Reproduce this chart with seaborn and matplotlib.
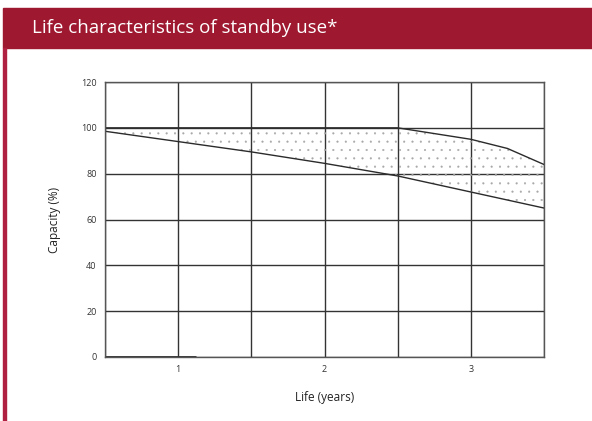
import numpy as np
import pandas as pd
import matplotlib
matplotlib.use("Agg")
import matplotlib.pyplot as plt
import seaborn as sns

# values
years = [0.5, 1.0, 1.5, 2.0, 2.5, 3.0, 3.25, 3.5]
upper = [100, 100, 100, 100, 100, 95, 91, 84]
lower = [98.5, 94, 89.5, 84.5, 79, 72, 68.5, 65]
x_ticks = [1, 2, 3]
y_ticks = [0, 20, 40, 60, 80, 100, 120]

sns.set_style("white")
plt.rcParams['font.family'] = ['Open Sans', 'DejaVu Sans']
plt.rcParams['hatch.linewidth'] = 0.3

df = pd.DataFrame({'years': years, 'upper': upper, 'lower': lower})

fig = plt.figure(figsize=(5.92, 4.21), dpi=100)

# red header band and left border
fig.patches.append(plt.Rectangle((3/592, 1 - 48/421), 1, 40/421, transform=fig.transFigure,
                                 color='#9e1830', zorder=0))
fig.patches.append(plt.Rectangle((3/592, 0), 3/592, 1 - 48/421, transform=fig.transFigure,
                                 color='#b02040', zorder=0))
fig.text(32/592, 1 - 28/421, 'Life characteristics of standby use*', color='white',
         fontsize=13.5, va='center', ha='left')

ax = fig.add_axes([105/592, 64/421, 439/592, 275/421])

ax.fill_between(df['years'], df['lower'], df['upper'], facecolor='none',
                edgecolor='#a8a8a8', hatch='..', linewidth=0)
sns.lineplot(data=df, x='years', y='upper', ax=ax, color='#2b2b2b', lw=1)
sns.lineplot(data=df, x='years', y='lower', ax=ax, color='#2b2b2b', lw=1)
ax.plot([0.5, 1.12], [0, 0], color='#2b2b2b', lw=2, solid_capstyle='butt')

ax.set_xlim(0.5, 3.5)
ax.set_ylim(0, 120)
ax.set_xticks(x_ticks)
ax.set_xticks(np.arange(0.5, 3.6, 0.5), minor=True)
ax.set_yticks(y_ticks)
ax.grid(True, which='both', color='#333333', lw=1)
ax.tick_params(axis='both', which='both', length=0, labelsize=6.5, colors='#333333', pad=6)
for s in ax.spines.values():
    s.set_color('#555555')
    s.set_linewidth(1)
ax.set_xlabel('Life (years)', fontsize=8.5, color='#222222', labelpad=12)
ax.set_ylabel('Capacity (%)', fontsize=8.5, color='#222222', labelpad=14)

fig.savefig('out.png', dpi=100)
